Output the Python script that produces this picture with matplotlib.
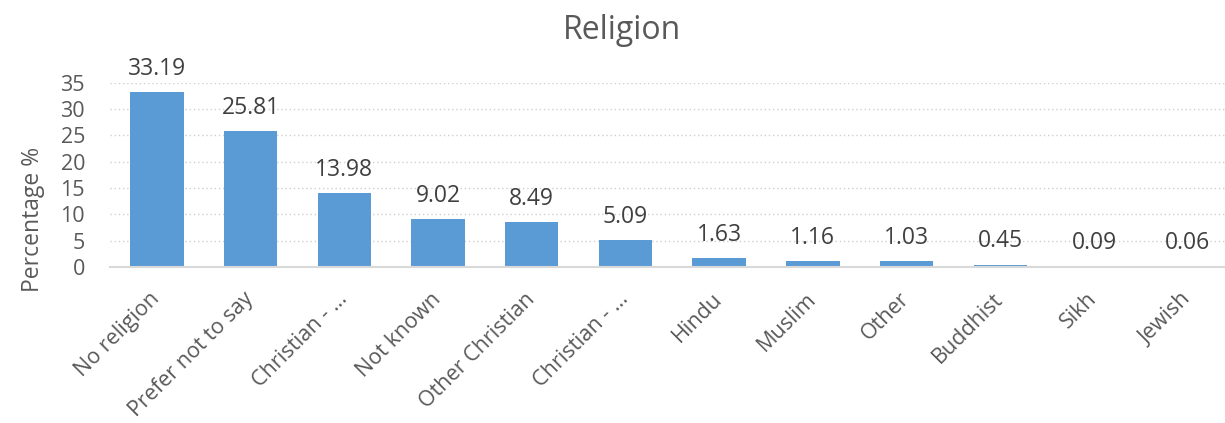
import matplotlib.pyplot as plt
import numpy as np

categories = ['No religion', 'Prefer not to say', 'Christian - …', 'Not known',
              'Other Christian', 'Christian - …', 'Hindu', 'Muslim', 'Other',
              'Buddhist', 'Sikh', 'Jewish']
percentages = [33.19, 25.81, 13.98, 9.02, 8.49, 5.09, 1.63, 1.16, 1.03, 0.45, 0.09, 0.06]
y_ticks = [0, 5, 10, 15, 20, 25, 30, 35]

TEXT = '#595959'
BAR = '#5B9BD5'

plt.rcParams['font.family'] = ['Open Sans', 'DejaVu Sans']

fig = plt.figure(figsize=(12.25, 4.23), dpi=100)
ax = fig.add_axes([0.0898, 0.369, 0.918, 0.435])

x = np.arange(len(categories))
bars = ax.bar(x, percentages, width=0.57, color=BAR, zorder=2)

# value labels above each bar
for rect, val in zip(bars, percentages):
    ax.annotate(f'{val:.2f}', (rect.get_x() + rect.get_width() / 2, val),
                xytext=(0, 8), textcoords='offset points',
                ha='center', va='bottom', fontsize=16.5, color='#404040')

ax.set_xlim(-0.5, len(categories) - 0.5)
ax.set_ylim(0, 35)
ax.set_yticks(y_ticks)
ax.tick_params(axis='y', length=0, labelsize=15.5, labelcolor=TEXT, pad=18)
ax.tick_params(axis='x', length=0, labelsize=15.5, labelcolor=TEXT, pad=21)
ax.set_xticks(x)
ax.set_xticklabels(categories, rotation=45, ha='right', va='center',
                   rotation_mode='anchor')

ax.yaxis.grid(True, linestyle=(0, (1, 2)), color='#D0D0D0', linewidth=1, zorder=0)
for side in ['top', 'right', 'left']:
    ax.spines[side].set_visible(False)
ax.spines['bottom'].set_color('#D9D9D9')
ax.spines['bottom'].set_linewidth(1.5)

ax.set_ylabel('Percentage %', fontsize=16.5, color=TEXT)
ax.yaxis.set_label_coords(-0.058, 0.26)
fig.text(0.508, 0.927, 'Religion', ha='center', va='center', fontsize=23, color=TEXT)

fig.savefig('out.png', dpi=100)
